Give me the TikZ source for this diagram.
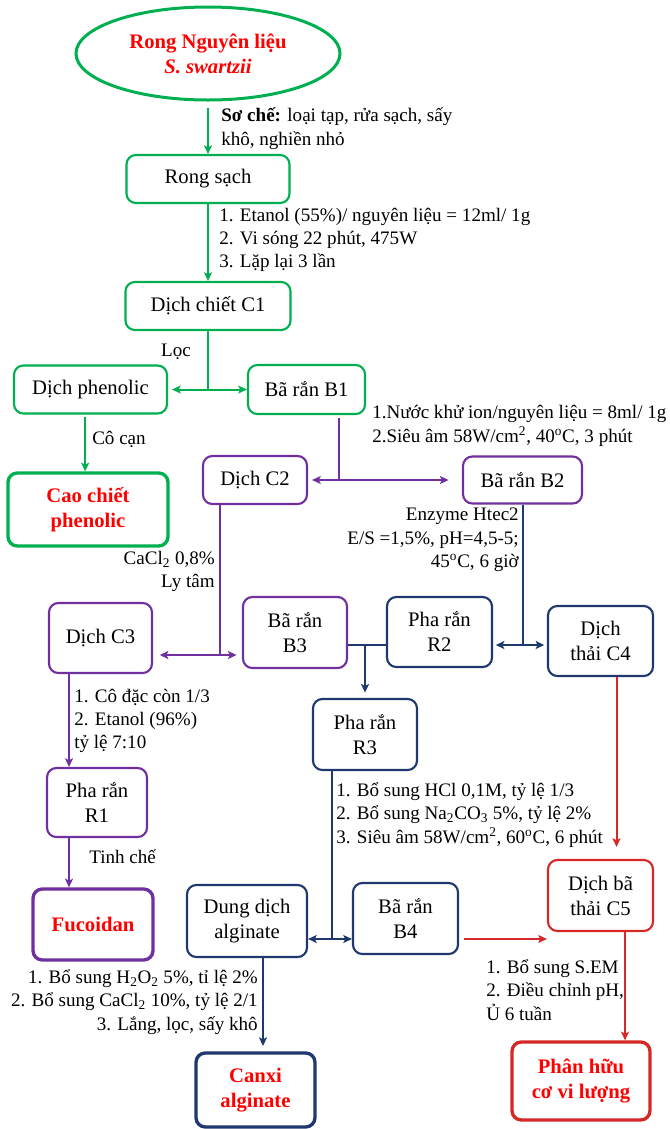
\documentclass[tikz,border=0pt]{standalone}
\usepackage{fontspec}
\setmainfont{Liberation Serif}
\usetikzlibrary{arrows.meta,shapes.geometric}

\definecolor{grn}{RGB}{0,176,80}
\definecolor{prp}{RGB}{112,48,160}
\definecolor{nvy}{RGB}{31,56,110}
\definecolor{rdb}{RGB}{215,40,40}

\begin{document}
\begin{tikzpicture}[x=0.75pt,y=0.75pt,yscale=-1,xscale=1,
  box/.style={draw, rounded corners=7pt, line width=1.6pt, align=center, inner sep=1pt, font=\fontsize{15.5}{18.75}\selectfont},
  bigbox/.style={box, line width=2.5pt},
  sz/.style 2 args={minimum width=#1*0.75pt, minimum height=#2*0.75pt},
  result/.style={text=red, font=\fontsize{15.5}{18.75}\selectfont\bfseries},
  lbl/.style={inner sep=0pt, font=\fontsize{14.3}{17.5}\selectfont},
  ln/.style={line width=1.5pt},
  arr/.style={ln, -{Stealth[length=6.5pt,width=6pt,inset=1.5pt]}},
  darr/.style={ln, {Stealth[length=6.5pt,width=6pt,inset=1.5pt]}-{Stealth[length=6.5pt,width=6pt,inset=1.5pt]}}
]
\useasboundingbox (0,0) rectangle (669,1129);

%Shape: Ellipse
\node [ellipse, draw=grn, line width=2.25pt, inner sep=0pt, align=center, sz={264}{93}, result] (src) at (208,53.5) {Rong Nguyên liệu\\\textit{S. swartzii}};

%Shape: Rounded Rect
\node [box, draw=grn, sz={163}{48}] (rs) at (208,179) {Rong sạch};
\node [box, draw=grn, sz={165}{48}] (c1) at (208,306) {Dịch chiết C1};
\node [box, draw=grn, sz={153}{48}] (phen) at (90.5,389.5) {Dịch phenolic};
\node [box, draw=grn, sz={117}{49}] (b1) at (306.5,389.5) {Bã rắn B1};
\node [bigbox, draw=grn, sz={160}{73}, result] (cao) at (88,509.5) {Cao chiết\\phenolic};
\node [box, draw=prp, sz={104}{48}] (c2) at (255,480) {Dịch C2};
\node [box, draw=prp, sz={119}{47}] (b2) at (522.5,480) {Bã rắn B2};
\node [box, draw=prp, sz={103}{70}] (c3) at (100.5,638) {Dịch C3};
\node [box, draw=prp, sz={104}{71}] (b3) at (295,632.5) {Bã rắn\\B3};
\node [box, draw=nvy, sz={105}{70}] (r2) at (439.5,632) {Pha rắn\\R2};
\node [box, draw=nvy, sz={105}{70}] (c4) at (600.5,641) {Dịch\\thải C4};
\node [box, draw=nvy, sz={104}{71}] (r3) at (365,734.5) {Pha rắn\\R3};
\node [box, draw=prp, sz={100}{69}] (r1) at (97,802.5) {Pha rắn\\R1};
\node [bigbox, draw=prp, sz={120}{71}, result] (fuc) at (93,924.5) {Fucoidan};
\node [box, draw=nvy, sz={120}{72}] (alg) at (247,921) {Dung dịch\\alginate};
\node [box, draw=nvy, sz={105}{71}] (b4) at (405.5,918.5) {Bã rắn\\B4};
\node [box, draw=rdb, sz={105}{71}] (c5) at (600.5,895.5) {Dịch bã\\thải C5};
\node [bigbox, draw=nvy, sz={119}{74}, result] (can) at (255.5,1090) {Canxi\\alginate};
\node [bigbox, draw=rdb, sz={138}{78}, result] (phan) at (581,1081) {Phân hữu\\cơ vi lượng};

%Coordinates for branch points
\coordinate (j1) at (c1.south |- phen.east);
\coordinate (phs) at ([xshift=-4pt]phen.south);
\coordinate (b1s) at ([xshift=24.4pt]b1.south);
\coordinate (c2s) at ([xshift=-25.9pt]c2.south);
\coordinate (c3e) at ([yshift=12.75pt]c3.east);
\coordinate (c3s) at ([xshift=-23.6pt]c3.south);
\coordinate (r2w) at ([yshift=9.75pt]r2.west);
\coordinate (r3s) at ([xshift=-24.75pt]r3.south);
\coordinate (alge) at ([yshift=13.5pt]alg.east);
\coordinate (algs) at ([xshift=12pt]alg.south);
\coordinate (c4s) at ([xshift=12pt]c4.south);
\coordinate (c5s) at ([xshift=18.4pt]c5.south);

%Straight Lines
\draw [arr, grn, shorten <=5pt] (src) -- (rs);
\draw [arr, grn] (rs) -- (c1);
\draw [ln, grn] (c1) -- (j1);
\draw [darr, grn, shorten <=3pt] (phen) -- (b1);
\draw [arr, grn, shorten <=2pt] (phs) -- (phs |- cao.north);
\draw [ln, prp, shorten <=2pt] (b1s) -- (b1s |- c2.east);
\draw [darr, prp, shorten <=3pt, shorten >=10pt] (c2) -- (b2);
\draw [ln, prp] (c2s) -- (c2s |- c3e);
\draw [darr, prp, shorten <=5pt, shorten >=4pt] (c3e) -- (c3e -| b3.west);
\draw [arr, prp] (c3s) -- (c3s |- r1.north);
\draw [arr, prp] (c3s |- r1.south) -- (c3s |- fuc.north);
\draw [ln, nvy] (b3.east |- r2w) -- (r2w);
\draw [arr, nvy, shorten >=4pt] (r3.north |- r2w) -- (r3.north);
\draw [ln, nvy] (b2.south) -- (b2.south |- r2w);
\draw [darr, nvy, shorten <=2pt, shorten >=2pt] (r2.east |- r2w) -- (c4.west |- r2w);
\draw [ln, nvy] (r3s) -- (r3s |- alge);
\draw [darr, nvy] (alge) -- (alge -| b4.west);
\draw [arr, nvy, shorten >=4pt] (algs) -- (algs |- can.north);
\draw [arr, rdb, shorten <=4pt] (b4.east |- alge) -- (c5.west |- alge);
\draw [arr, rdb, shorten >=9pt] (c4s) -- (c4s |- c5.north);
\draw [arr, rdb] (c5s) -- (c5s |- phan.north);

% Text Node
\node [lbl, anchor=west, align=left] (t1) at (221,128.5) {\textbf{Sơ chế:} loại tạp, rửa sạch, sấy\\khô, nghiền nhỏ};
% Text Node
\node [lbl, anchor=west, align=left] (t2) at (219,240) {1. Etanol (55\%)/ nguyên liệu = 12ml/ 1g\\2. Vi sóng 22 phút, 475W\\3. Lặp lại 3 lần};
% Text Node
\node [lbl] (t3) at (176,352) {Lọc};
% Text Node
\node [lbl, anchor=west] (t4) at (92,439) {Cô cạn};
% Text Node
\node [lbl, anchor=west, align=left] (t5) at (372,426) {1.Nước khử ion/nguyên liệu = 8ml/ 1g\\2.Siêu âm 58W/cm\textsuperscript{2}, 40\textsuperscript{o}C, 3 phút};
% Text Node
\node [lbl, anchor=east, align=right] (t6) at (519,540) {Enzyme Htec2\\E/S =1,5\%, pH=4,5-5;\\45\textsuperscript{o}C, 6 giờ};
% Text Node
\node [lbl, anchor=east, align=right] (t7) at (215,571.5) {CaCl\textsubscript{2} 0,8\%\\Ly tâm};
% Text Node
\node [lbl, anchor=west, align=left] (t8) at (74,721) {1. Cô đặc còn 1/3\\2. Etanol (96\%)\\tỷ lệ 7:10};
% Text Node
\node [lbl, anchor=west, align=left] (t9) at (336,815) {1. Bổ sung HCl 0,1M, tỷ lệ 1/3\\2. Bổ sung Na\textsubscript{2}CO\textsubscript{3} 5\%, tỷ lệ 2\%\\3. Siêu âm 58W/cm\textsuperscript{2}, 60\textsuperscript{o}C, 6 phút};
% Text Node
\node [lbl, anchor=west] (t10) at (89,857) {Tinh chế};
% Text Node
\node [lbl, anchor=east, align=right] (t11) at (258,1002) {1. Bổ sung H\textsubscript{2}O\textsubscript{2} 5\%, tỉ lệ 2\%\\2. Bổ sung CaCl\textsubscript{2} 10\%, tỷ lệ 2/1\\3. Lắng, lọc, sấy khô};
% Text Node
\node [lbl, anchor=west, align=left] (t12) at (486,990) {1. Bổ sung S.EM\\2. Điều chỉnh pH,\\Ủ 6 tuần};

\end{tikzpicture}
\end{document}
